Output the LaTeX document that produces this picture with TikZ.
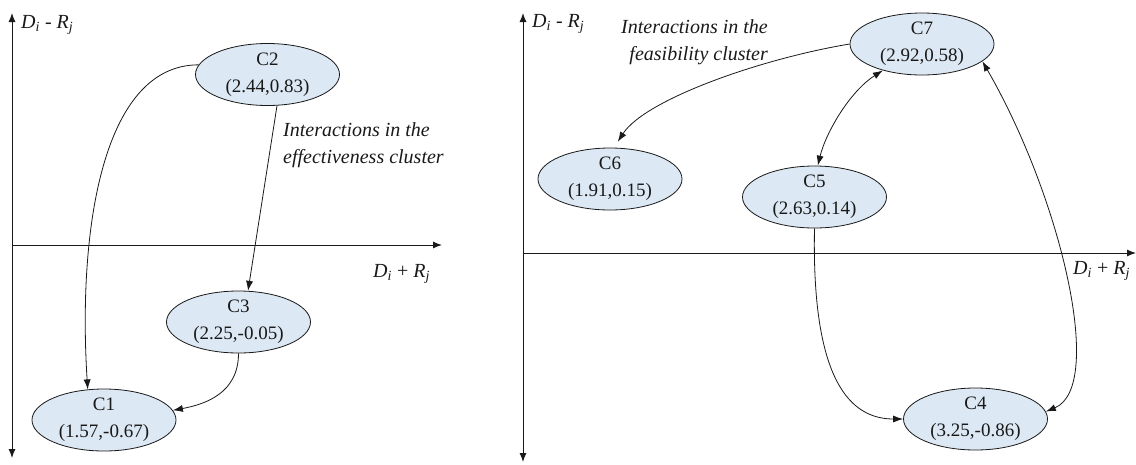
\documentclass[tikz,border=0pt]{standalone}
\usepackage{fontspec}
\setmainfont{Liberation Serif}
\usetikzlibrary{arrows.meta,shapes.geometric}
\definecolor{nodefill}{RGB}{220,232,244}
\definecolor{inkc}{RGB}{25,25,25}
\newcommand{\ivar}[2]{\textit{#1}\textsubscript{\textit{#2}}}
\begin{document}
\begin{tikzpicture}[x=1pt,y=-1pt,
  every node/.style={font=\fontsize{19}{27}\selectfont, text=inkc},
  cnode/.style={ellipse,draw=inkc,line width=0.8pt,fill=nodefill,
    minimum width=144pt,minimum height=62pt,inner sep=0pt,align=center},
  conn/.style={draw=inkc,line width=0.8pt,-{Latex[length=10pt,width=7pt]}},
  dconn/.style={draw=inkc,line width=0.8pt,{Latex[length=10pt,width=7pt]}-{Latex[length=10pt,width=7pt]}},
  axisline/.style={draw=inkc,line width=1pt},
  axtip/.style={-{Latex[length=9pt,width=7pt]}},
  axtips/.style={{Latex[length=9pt,width=7pt]}-{Latex[length=9pt,width=7pt]}},
  axlabel/.style={anchor=base west,inner sep=0pt,font=\fontsize{20}{24}\selectfont},
  note/.style={inner sep=0pt,font=\fontsize{20}{27}\selectfont\itshape}
]
\useasboundingbox (0,0) rectangle (1136,464);

% ---------- left panel ----------
\coordinate (LyTop) at (12,13);
\coordinate (LyBot) at (12,458);
\coordinate (LxL) at (12,245);
\coordinate (LxR) at (442,245);
\draw[axisline,axtips] (LyBot) -- (LyTop);
\draw[axisline,axtip] (LxL) -- (LxR);
\node[axlabel] (LyLab) at (21,28) {\ivar{D}{i} - \ivar{R}{j}};
\node[axlabel] (LxLab) at (373,277) {\ivar{D}{i} + \ivar{R}{j}};

\node[cnode] (C2) at (267.5,74.5) {C2\\(2.44,0.83)};
\node[cnode] (C3) at (238.5,322) {C3\\(2.25,-0.05)};
\node[cnode] (C1) at (104,420) {C1\\(1.57,-0.67)};

\node[note,anchor=base west] (noteL1) at (283,136) {Interactions in the};
\node[note,anchor=base west] (noteL2) at (283,163) {effectiveness cluster};

\draw[conn] (C2.172) .. controls +(-97,0) and +(-10,-157) .. (C1.118);
\draw[conn] (C2.-73) -- (C3.73);
\draw[conn] (C3.south) .. controls +(0,40) and +(32,-6) .. (C1.8);

% ---------- right panel ----------
\coordinate (RyTop) at (523,13);
\coordinate (RyBot) at (523,462);
\coordinate (RxL) at (523,253);
\coordinate (RxR) at (1136,253);
\draw[axisline,axtips] (RyBot) -- (RyTop);
\draw[axisline,axtip] (RxL) -- (RxR);
\node[axlabel] (RyLab) at (532,27) {\ivar{D}{i} - \ivar{R}{j}};
\node[axlabel] (RxLab) at (1073,274) {\ivar{D}{i} + \ivar{R}{j}};

\node[cnode] (C7) at (922,44) {C7\\(2.92,0.58)};
\node[cnode] (C6) at (610,179) {C6\\(1.91,0.15)};
\node[cnode] (C5) at (814.5,197) {C5\\(2.63,0.14)};
\node[cnode] (C4) at (975.5,419) {C4\\(3.25,-0.86)};

\node[note,anchor=base east] (noteR1) at (768,33) {Interactions in the};
\node[note,anchor=base east] (noteR2) at (768,60) {feasibility cluster};

\draw[conn] (C7.west) .. controls +(-90,15) and +(27,-42) .. ([yshift=6pt]C6.76);
\draw[dconn] (C5.84) .. controls +(8,-33) and +(-33,21) .. (C7.-146);
\draw[dconn] (C7.-16) .. controls +(78,135) and +(60,-25) .. (C4.6);
\draw[conn] (C5.south) .. controls +(-3,152) and +(-53,0) .. (C4.west);
\end{tikzpicture}
\end{document}
